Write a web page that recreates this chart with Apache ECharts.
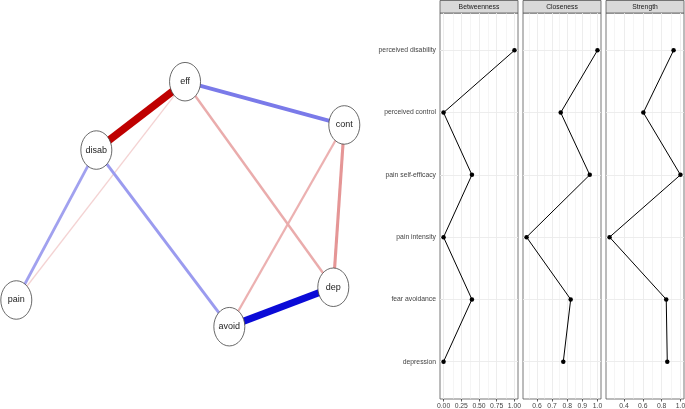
<!DOCTYPE html>
<html>
<head>
<meta charset="utf-8">
<title>Network and centrality</title>
<script src="https://cdn.jsdelivr.net/npm/echarts@6/dist/echarts.min.js"></script>
<style>
  html, body { margin: 0; padding: 0; background: #fff; }
  #chart { width: 685px; height: 409px; }
</style>
</head>
<body>
<div id="chart"></div>
<script>
// network nodes, layout coords in -1..1
const nodeNames = ['eff', 'disab', 'cont', 'pain', 'avoid', 'dep']
const nodeX = [0.029, -0.512, 1, -1, 0.299, 0.933]
const nodeY = [1, 0.442, 0.647, -0.782, -1, -0.678]

// edges (weakest first so strong ones lie on top)
const edgeFrom = ['eff', 'cont', 'eff', 'disab', 'disab', 'cont', 'eff', 'avoid', 'disab']
const edgeTo = ['pain', 'avoid', 'dep', 'pain', 'avoid', 'dep', 'cont', 'dep', 'eff']
const edgeWeight = [-0.08, -0.14, -0.15, 0.17, 0.18, -0.19, 0.24, 0.44, -0.46]

// centrality plot
const measures = ['Betweenness', 'Closeness', 'Strength']
const variables = ['perceived disability', 'perceived control', 'pain self-efficacy', 'pain intensity', 'fear avoidance', 'depression']
const betweenness = [1.0, 0.0, 0.4, 0.0, 0.4, 0.0]
const closeness = [1.0, 0.757, 0.949, 0.531, 0.823, 0.774]
const strength = [0.927, 0.606, 1.0, 0.247, 0.849, 0.86]
const majorTicks = [[0, 0.25, 0.5, 0.75, 1], [0.6, 0.7, 0.8, 0.9, 1.0], [0.4, 0.6, 0.8, 1.0]]
const minorTicks = [[0.125, 0.375, 0.625, 0.875], [0.55, 0.65, 0.75, 0.85, 0.95], [0.3, 0.5, 0.7, 0.9]]
const tickDigits = [2, 1, 1]

const FONT = '"Liberation Sans", Arial, Helvetica, sans-serif'
const H = 409
const panelLeft = [440, 523, 606]
const panelWidth = 78
const stripH = 13
const panelBottom = 399

const maxW = Math.max(...edgeWeight.map(Math.abs))
function edgeColor (w) {
  const t = Math.abs(w) / maxW
  const base = w > 0 ? [0, 0, 213] : [191, 0, 0]
  const c = base.map(v => Math.round(255 + (v - 255) * t))
  return 'rgb(' + c.join(',') + ')'
}

const grid = [{ left: 16.3, right: 340.7, top: 81.7, bottom: 82.3, outerBoundsMode: 'none' }]
const xAxis = [{ type: 'value', gridIndex: 0, min: -1, max: 1, show: false }]
const yAxis = [{ type: 'value', gridIndex: 0, min: -1, max: 1, show: false }]
const series = [{
  type: 'graph',
  coordinateSystem: 'cartesian2d',
  xAxisIndex: 0,
  yAxisIndex: 0,
  silent: true,
  symbol: 'circle',
  symbolSize: [31, 38.5],
  edgeSymbol: ['none', 'none'],
  itemStyle: { color: '#fff', borderColor: '#444', borderWidth: 0.8 },
  label: { show: true, position: 'inside', fontSize: 9, color: '#222', fontFamily: FONT },
  data: nodeNames.map((n, i) => ({ name: n, value: [nodeX[i], nodeY[i]] })),
  links: edgeFrom.map((f, i) => ({
    source: f,
    target: edgeTo[i],
    lineStyle: {
      color: edgeColor(edgeWeight[i]),
      width: Math.max(1, Math.abs(edgeWeight[i]) / maxW * 7.5),
      opacity: 1,
      curveness: 0
    }
  }))
}]

const values = [betweenness, closeness, strength]
const catIdx = variables.map((v, i) => i + 1)
const graphic = []

measures.forEach((m, f) => {
  const vals = values[f]
  const lo = Math.min(...vals)
  const hi = Math.max(...vals)
  const pad = (hi - lo) * 0.05
  const g = f + 1
  grid.push({
    left: panelLeft[f], width: panelWidth, top: stripH, bottom: H - panelBottom,
    show: true, borderColor: '#555', borderWidth: 0.8, backgroundColor: '#fff',
    outerBoundsMode: 'none'
  })
  xAxis.push({
    type: 'value', gridIndex: g, min: lo - pad, max: hi + pad, position: 'bottom',
    axisLine: { show: false },
    splitLine: { show: false },
    axisTick: { show: true, customValues: majorTicks[f], length: 2.5, lineStyle: { color: '#333', width: 0.8 } },
    axisLabel: {
      customValues: majorTicks[f],
      formatter: v => v.toFixed(tickDigits[f]),
      fontSize: 6.8, color: '#444', margin: 3.5, fontFamily: FONT
    }
  })
  yAxis.push({
    type: 'value', gridIndex: g, inverse: true, min: 0.4, max: variables.length + 0.6,
    axisLine: { show: false },
    splitLine: { show: false },
    axisTick: { show: f === 0, customValues: catIdx, length: 2.5, lineStyle: { color: '#333', width: 0.8 } },
    axisLabel: {
      show: f === 0,
      customValues: catIdx,
      formatter: v => variables[Math.round(v) - 1] && Math.abs(v - Math.round(v)) < 1e-6 ? variables[Math.round(v) - 1] : '',
      fontSize: 6.8, color: '#444', margin: 4, fontFamily: FONT
    }
  })
  // panel grid lines, kept under the data line
  series.push({
    type: 'line', xAxisIndex: g, yAxisIndex: g, data: [], z: 1, silent: true,
    markLine: {
      z: 1,
      silent: true,
      symbol: ['none', 'none'],
      label: { show: false },
      animation: false,
      lineStyle: { color: '#ebebeb', type: 'solid', width: 0.9 },
      data: minorTicks[f].map(v => ({ xAxis: v, lineStyle: { width: 0.5 } }))
        .concat(majorTicks[f].map(v => ({ xAxis: v })))
        .concat(catIdx.map(v => ({ yAxis: v })))
    }
  })
  series.push({
    type: 'line', xAxisIndex: g, yAxisIndex: g, z: 10, silent: true,
    data: vals.map((v, i) => [v, i + 1]),
    symbol: 'circle', symbolSize: 4.5,
    itemStyle: { color: '#000', borderWidth: 0, borderColor: '#000' },
    lineStyle: { color: '#000', width: 1 }
  })
  graphic.push({
    type: 'rect', silent: true,
    shape: { x: panelLeft[f], y: 0.5, width: panelWidth, height: stripH - 0.5 },
    style: { fill: '#d9d9d9', stroke: '#555', lineWidth: 0.8 }
  })
  graphic.push({
    type: 'text', silent: true,
    x: panelLeft[f] + panelWidth / 2, y: stripH / 2 + 0.5,
    style: { text: m, font: '6.8px ' + FONT, fill: '#1a1a1a', align: 'center', verticalAlign: 'middle' }
  })
})

const myChart = echarts.init(document.getElementById('chart'))
myChart.setOption({
  animation: false,
  backgroundColor: '#fff',
  grid: grid,
  xAxis: xAxis,
  yAxis: yAxis,
  series: series,
  graphic: graphic
})
</script>
</body>
</html>
